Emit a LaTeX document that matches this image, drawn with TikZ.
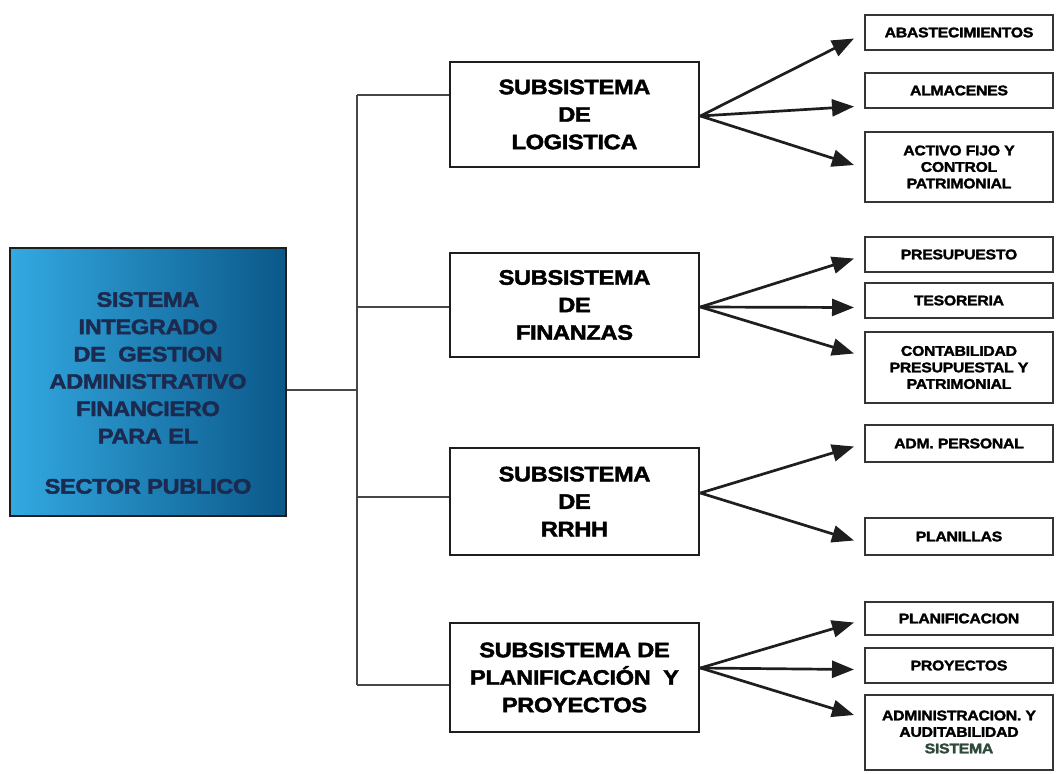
\documentclass[tikz,border=0pt]{standalone}
\usepackage{fontspec}
\setmainfont{Liberation Sans}
\newfontfamily\wfont[FakeStretch=1.13, LetterSpace=-2, BoldFeatures={FakeBold=2}]{Liberation Sans}
\usetikzlibrary{arrows.meta,calc}
\definecolor{sysL}{HTML}{33A9E2}
\definecolor{sysR}{HTML}{0B5889}
\definecolor{systxt}{HTML}{1B2A4E}
\definecolor{sisgreen}{HTML}{2F4A38}
\definecolor{ink}{HTML}{1E1E1E}
\tikzset{
  every node/.style={inner sep=0pt},
  sub/.style={draw=ink, line width=2.8pt, minimum width=249pt, align=center,
    font=\wfont\bfseries\fontsize{21}{27.5}\selectfont},
  leaf/.style={draw=ink!90, line width=2pt, minimum width=188pt, align=center,
    font=\wfont\bfseries\fontsize{14}{16.5}\selectfont},
  sysbox/.style={draw=ink, line width=1.5pt, minimum width=276pt, minimum height=268pt,
    left color=sysL, right color=sysR},
  systext/.style={align=center, text=systxt,
    font=\wfont\bfseries\fontsize{21}{27.3}\selectfont},
  link/.style={draw=black!72, line width=2pt},
  arr/.style={draw=ink, line width=2.7pt, -{Triangle[length=22pt,width=17pt]}},
}
\begin{document}
\begin{tikzpicture}[x=1pt,y=-1pt]
\useasboundingbox (0,0) rectangle (1056,773);
% main system box
\node[sysbox] (sys) at (148,382) {};
\node[systext] (systx) at (148,393) {SISTEMA\\INTEGRADO\\DE\ \ GESTION\\ADMINISTRATIVO\\FINANCIERO\\PARA EL\\[23pt]SECTOR PUBLICO};
% subsystems
\node[sub, minimum height=105pt] (log) at (574.5,114.5) {SUBSISTEMA\\DE\\LOGISTICA};
\node[sub, minimum height=104pt] (fin) at (574.5,305) {SUBSISTEMA\\DE\\FINANZAS};
\node[sub, minimum height=107pt] (rrhh) at (574.5,501.5) {SUBSISTEMA\\DE\\RRHH};
\node[sub, minimum height=109pt] (plan) at (574.5,677.5) {SUBSISTEMA DE\\PLANIFICACIÓN\ \ Y\\PROYECTOS};
% leaves
\node[leaf, minimum height=35pt] (abas) at (959,32.5) {ABASTECIMIENTOS};
\node[leaf, minimum height=35pt] (alm) at (959,90.5) {ALMACENES};
\node[leaf, minimum height=70pt] (act) at (959,167) {ACTIVO FIJO Y\\CONTROL\\PATRIMONIAL};
\node[leaf, minimum height=35pt] (pres) at (959,254.5) {PRESUPUESTO};
\node[leaf, minimum height=35pt] (tes) at (959,300.5) {TESORERIA};
\node[leaf, minimum height=71pt] (cont) at (959,367.5) {CONTABILIDAD\\PRESUPUESTAL Y\\PATRIMONIAL};
\node[leaf, minimum height=37pt] (adm) at (959,443.5) {ADM. PERSONAL};
\node[leaf, minimum height=37pt] (pla) at (959,536.5) {PLANILLAS};
\node[leaf, minimum height=33pt] (planif) at (959,618.5) {PLANIFICACION};
\node[leaf, minimum height=35pt] (proy) at (959,665.5) {PROYECTOS};
\node[leaf, minimum height=75pt] (admin) at (959,732) {ADMINISTRACION. Y\\AUDITABILIDAD\\\textcolor{sisgreen}{SISTEMA}};
% trunk
\coordinate (t0) at (357,390);
\coordinate (t1) at (357,95);
\coordinate (t2) at (357,307);
\coordinate (t3) at (357,497);
\coordinate (t4) at (357,685);
\draw[link] (t1) -- (t4);
\draw[link] (sys.east |- t0) -- (t0);
\draw[link] (t1) -- (t1 -| log.west);
\draw[link] (t2) -- (t2 -| fin.west);
\draw[link] (t3) -- (t3 -| rrhh.west);
\draw[link] (t4) -- (t4 -| plan.west);
% arrows
\draw[arr] ($(log.east)+(0,1.5)$) -- ($(abas.west)+(-10,6)$);
\draw[arr] ($(log.east)+(0,1.5)$) -- ($(alm.west)+(-10,16)$);
\draw[arr] ($(log.east)+(0,1.5)$) -- ($(act.west)+(-10,-2)$);
\draw[arr] ($(fin.east)+(0,2)$) -- ($(pres.west)+(-10,4)$);
\draw[arr] ($(fin.east)+(0,2)$) -- ($(tes.west)+(-10,7)$);
\draw[arr] ($(fin.east)+(0,2)$) -- ($(cont.west)+(-10,-14)$);
\draw[arr] ($(rrhh.east)+(0,-8.5)$) -- ($(adm.west)+(-10,3)$);
\draw[arr] ($(rrhh.east)+(0,-8.5)$) -- ($(pla.west)+(-10,4)$);
\draw[arr] ($(plan.east)+(0,-9.5)$) -- ($(planif.west)+(-10,4)$);
\draw[arr] ($(plan.east)+(0,-9.5)$) -- ($(proy.west)+(-10,4)$);
\draw[arr] ($(plan.east)+(0,-9.5)$) -- ($(admin.west)+(-10,-17)$);
\end{tikzpicture}
\end{document}
